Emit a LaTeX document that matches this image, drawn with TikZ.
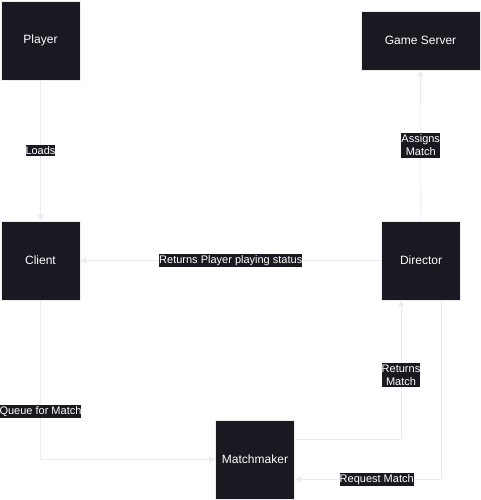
\documentclass[tikz,border=0pt]{standalone}
\usepackage{fontspec}
\setmainfont{Liberation Sans}
\usetikzlibrary{arrows.meta, positioning}
\definecolor{boxfill}{RGB}{26,24,32}
\definecolor{wire}{RGB}{236,236,236}

\begin{document}
\begin{tikzpicture}[x=1pt,y=1pt,node distance=220pt,on grid,
    >={Stealth[length=7pt,width=7pt,inset=2pt]},
    block/.style={draw=wire,line width=0.8pt,fill=boxfill,text=white,
      minimum width=79pt,minimum height=79pt,font=\fontsize{12}{14}\selectfont},
    lbl/.style={fill=boxfill,text=white,inner xsep=0pt,inner ysep=1.5pt,
      align=center,font=\fontsize{11}{13}\selectfont},
    wireline/.style={draw=wire,line width=0.8pt,->}]
  \useasboundingbox (-40.5,40.5) rectangle (440.5,-459.5);
  \node[block] (player) {Player};
  \node[block] (client) [below=of player] {Client};
  \node[block] (director) [right=380.5pt of client] {Director};
  \node[block, minimum width=119pt, minimum height=59pt] (gameserver)
    [above=220pt of director, xshift=-0.5pt] {Game Server};
  \node[block] (matchmaker) [below right=199pt and 214.5pt of client] {Matchmaker};
  \path[wireline] (player) -- node[lbl] {Loads} (client);
  \path[wireline] (director) -- node[lbl] {Returns Player playing status} (client);
  \path[wireline] (director) -- node[lbl] {Assigns\\Match} (gameserver);
  \path[wireline] (client) |- node[lbl, pos=0.35] {Queue for Match} (matchmaker);
  \path[wireline] ([yshift=20.5pt]matchmaker.east) -| node[lbl, pos=0.73] {Returns\\Match}
    ([xshift=-20pt]director.south);
  \path[wireline] ([xshift=20pt]director.south) |- node[lbl, pos=0.72] {Request Match}
    ([yshift=-20pt]matchmaker.east);
\end{tikzpicture}
\end{document}
